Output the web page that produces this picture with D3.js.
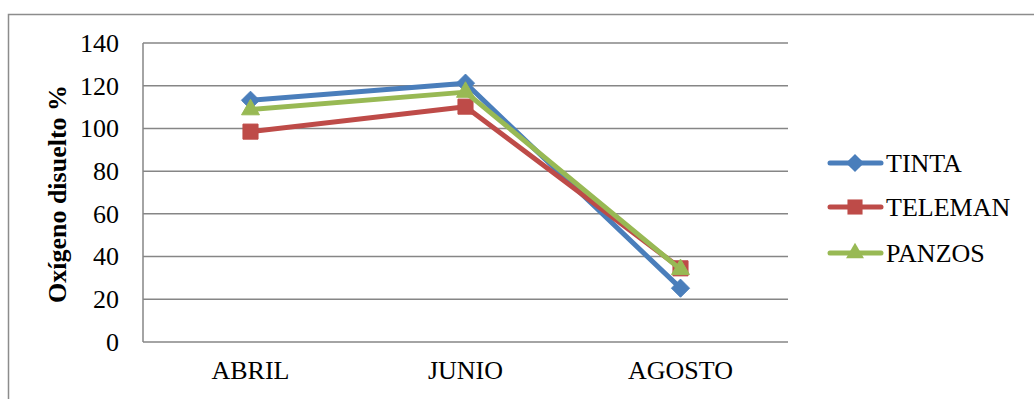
<!DOCTYPE html>
<html><head><meta charset="utf-8">
<script src="https://cdn.jsdelivr.net/npm/d3@7"></script>
<style>body{margin:0;background:#fff}svg{display:block}</style>
</head><body><svg id="c" width="1034" height="399"></svg>
<script>
const categories = ["ABRIL","JUNIO","AGOSTO"];
const seriesNames = ["TINTA","TELEMAN","PANZOS"];
const tinta = [113.2, 121.2, 25.2];
const teleman = [98.5, 110.2, 34.5];
const panzos = [108.8, 117.0, 34.0];
const yTicks = [0,20,40,60,80,100,120,140];
const colors = ["#4a7ebb","#be4b48","#98b954"];
const symbols = [d3.symbolDiamond2, d3.symbolSquare2, d3.symbolTriangle2];
const FONT = "'Liberation Serif'";
const FS = "26px";

const svg = d3.select("#c");
svg.append("rect").attr("x",8.5).attr("y",14.5).attr("width",1100).attr("height",500)
  .attr("fill","none").attr("stroke","#8c8c8c").attr("stroke-width",1.5);

const L=143, R=788, T=43, B=342;
const x = d3.scaleBand().domain(categories).range([L,R]);
const y = d3.scaleLinear().domain([0,140]).range([B,T]);

svg.append("g").selectAll("line").data(yTicks).join("line")
  .attr("x1",L).attr("x2",R).attr("y1",d=>y(d)).attr("y2",d=>y(d))
  .attr("stroke","#868686").attr("stroke-width",1.5);
svg.append("line").attr("x1",L).attr("x2",L).attr("y1",T).attr("y2",B)
  .attr("stroke","#868686").attr("stroke-width",1.5);

const yAxis = svg.append("g").attr("transform",`translate(${L},0)`)
  .call(d3.axisLeft(y).tickValues(yTicks).tickSize(0).tickPadding(24));
yAxis.select(".domain").remove();
yAxis.selectAll("text").attr("fill","#000").style("font-family",FONT).style("font-size",FS);

const xAxis = svg.append("g").attr("transform",`translate(0,${B})`)
  .call(d3.axisBottom(x).tickSize(0).tickPadding(19));
xAxis.select(".domain").remove();
xAxis.selectAll("text").attr("fill","#000").style("font-family",FONT).style("font-size",FS);

svg.append("text").attr("transform","translate(66,194) rotate(-90)")
  .attr("text-anchor","middle").style("font-family",FONT).style("font-size",FS).style("font-weight","bold")
  .text("Oxígeno disuelto %");

const data = [tinta, teleman, panzos];
const cx = c => x(c) + x.bandwidth()/2;
const line = d3.line().x((d,i)=>cx(categories[i])).y(d=>y(d));
const sizes = [210, 290, 230];
data.forEach((vals,si)=>{
  const g = svg.append("g");
  g.append("path").attr("d",line(vals)).attr("fill","none")
    .attr("stroke",colors[si]).attr("stroke-width",5).attr("stroke-linejoin","round");
  g.selectAll("path.m").data(vals).join("path").attr("class","m")
    .attr("transform",(d,i)=>`translate(${cx(categories[i])},${y(d)})`)
    .attr("d",d3.symbol().type(symbols[si]).size(sizes[si]))
    .attr("fill",colors[si]).attr("stroke",colors[si]).attr("stroke-width",1);
});

const legY = [163, 207, 253];
seriesNames.forEach((n,i)=>{
  const g = svg.append("g").attr("transform",`translate(0,${legY[i]})`);
  g.append("line").attr("x1",830).attr("x2",881).attr("y1",0).attr("y2",0)
    .attr("stroke",colors[i]).attr("stroke-width",5).attr("stroke-linecap","round");
  g.append("path").attr("transform","translate(855,0)")
    .attr("d",d3.symbol().type(symbols[i]).size(sizes[i])).attr("fill",colors[i]);
  g.append("text").attr("x",886).attr("y",0).attr("dy","0.35em")
    .style("font-family",FONT).style("font-size",FS).text(n);
});
</script></body></html>
